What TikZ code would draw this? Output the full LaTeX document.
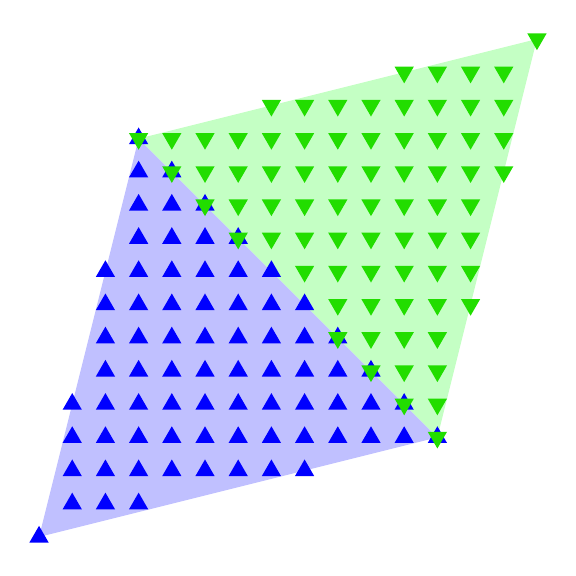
\documentclass[tikz,border=0pt]{standalone}
\usepackage{tikz}
\definecolor{melyna}{RGB}{0,0,255}
\definecolor{melynafon}{RGB}{192,192,255}
\definecolor{zalia}{RGB}{34,221,0}
\definecolor{zaliafon}{RGB}{196,255,196}
\tikzset{
  aukstyn/.style={fill=melyna},
  zemyn/.style={fill=zalia}
}
\newcommand{\rr}{0.335}
\begin{document}
\begin{tikzpicture}
  \useasboundingbox (-1.176,-1.176) rectangle (16.176,16.176);
  % trikampių plotai
  \fill[melynafon] (0,0) -- (3,12) -- (12,3) -- cycle;
  \fill[zaliafon] (3,12) -- (15,15) -- (12,3) -- cycle;
  % mėlyni taškai
  \foreach \j/\a/\b in {0/0/0, 1/1/3, 2/1/8, 3/1/12, 4/1/11, 5/2/10, 6/2/9,
                        7/2/8, 8/2/7, 9/3/6, 10/3/5, 11/3/4, 12/3/3}
    \foreach \i in {\a,...,\b}
      \fill[aukstyn] (\i,\j) +(90:\rr) -- +(210:\rr) -- +(330:\rr) -- cycle;
  % žali taškai
  \foreach \j/\a/\b in {3/12/12, 4/11/12, 5/10/12, 6/9/12, 7/9/13, 8/8/13,
                        9/6/13, 10/5/13, 11/4/14, 12/3/14, 13/7/14, 14/11/14,
                        15/15/15}
    \foreach \i in {\a,...,\b}
      \fill[zemyn] (\i,\j) +(270:\rr) -- +(30:\rr) -- +(150:\rr) -- cycle;
\end{tikzpicture}
\end{document}
